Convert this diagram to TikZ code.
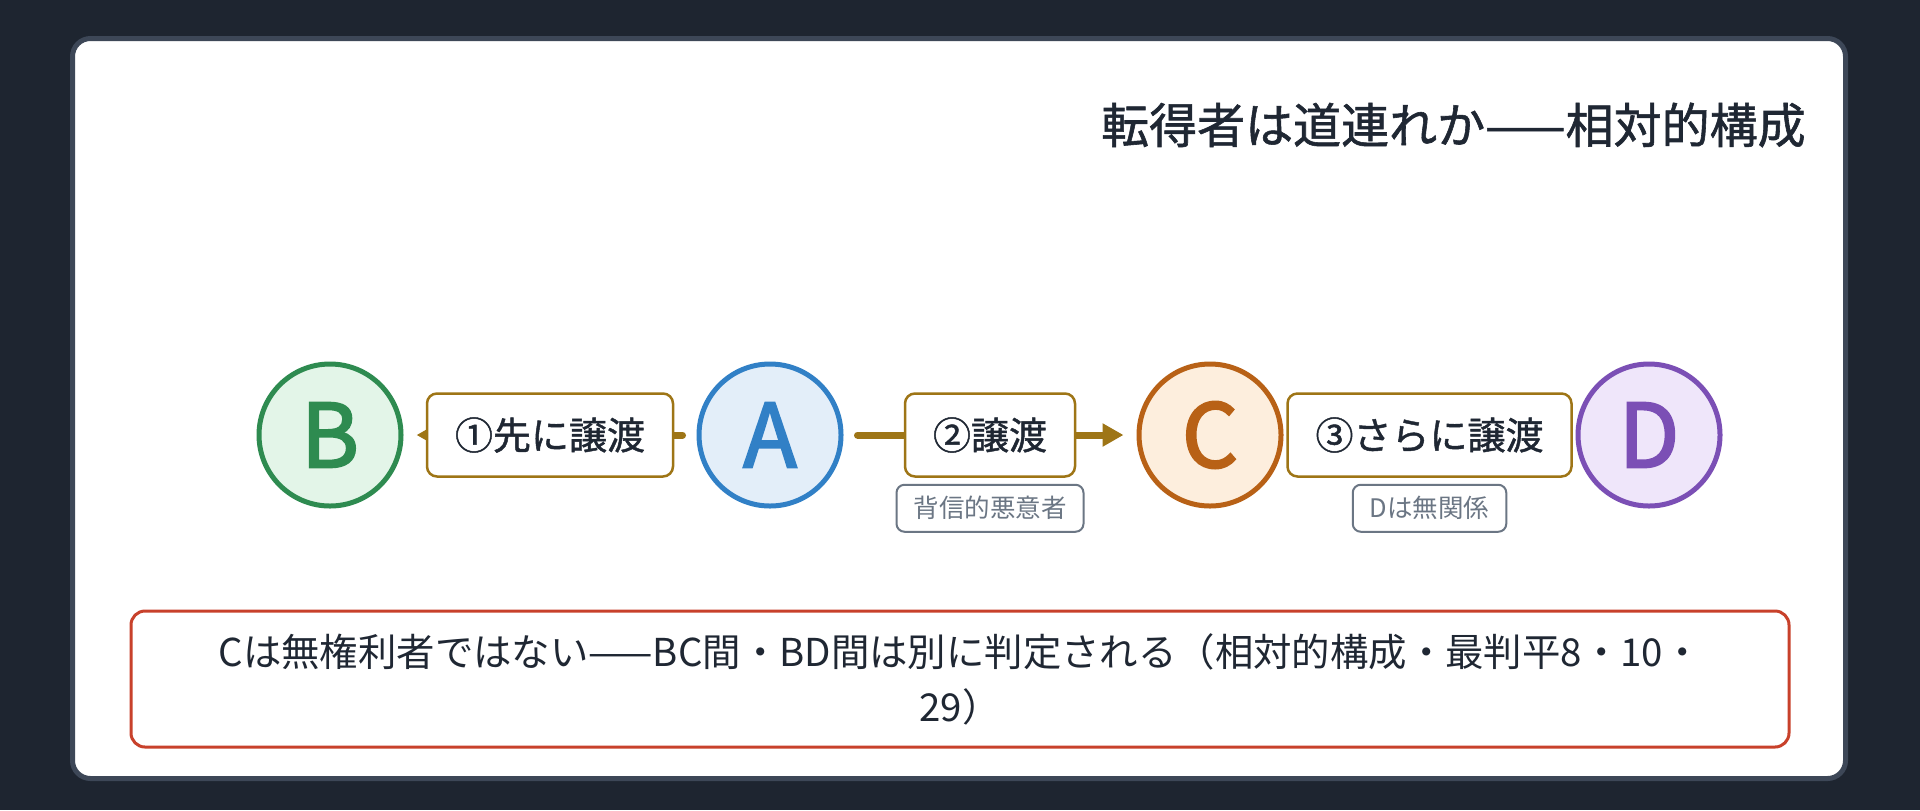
\documentclass[tikz,border=0pt]{standalone}
\usepackage{fontspec}
\setmainfont{Noto Sans CJK JP}
\newfontfamily\mediumjp{Noto Sans CJK JP}[FakeBold=1.2]
\newfontfamily\heavyjp{Noto Sans CJK JP}[FakeBold=2.5]
\usetikzlibrary{positioning,arrows.meta}

\definecolor{pagebg}{HTML}{1E2530}
\definecolor{cardedge}{HTML}{3D4757}
\definecolor{ink}{HTML}{1F2733}
\definecolor{gold}{HTML}{9E7516}
\definecolor{slate}{HTML}{6B7684}
\definecolor{alert}{HTML}{C8412B}
\definecolor{greenB}{HTML}{2E8B50}
\definecolor{greenBfill}{HTML}{E3F5E8}
\definecolor{blueA}{HTML}{3180C6}
\definecolor{blueAfill}{HTML}{E3EEF9}
\definecolor{orangeC}{HTML}{B86116}
\definecolor{orangeCfill}{HTML}{FDEEDD}
\definecolor{purpleD}{HTML}{7B4FB5}
\definecolor{purpleDfill}{HTML}{EFE6FA}

\tikzset{
  party/.style={circle, minimum size=71pt, inner sep=0pt, line width=2.5pt, font=\fontsize{44}{44}\selectfont\heavyjp},
  deal/.style={rectangle, rounded corners=5pt, draw=gold, line width=1.25pt, fill=white, text=ink, inner xsep=14pt, inner ysep=0pt, minimum height=41.5pt, font=\fontsize{19}{19}\selectfont\mediumjp},
  note/.style={rectangle, rounded corners=4pt, draw=slate, line width=1pt, fill=white, text=slate, inner xsep=8.5pt, inner ysep=0pt, minimum height=23.5pt, font=\fontsize{12.75}{12.75}\selectfont},
  link/.style={draw=gold, line width=3.5pt, line cap=round, shorten <=7pt, shorten >=6.5pt, -{Triangle[length=10.5pt,width=11pt]}}
}

\begin{document}
\begin{tikzpicture}[x=0.5pt, y=0.5pt]
\fill[pagebg] (0,0) rectangle (1920,-810);
\draw[cardedge, line width=2.5pt, fill=white, rounded corners=9pt] (72.5,-38.5) rectangle (1845.5,-778.5);
\node[anchor=east, inner sep=0pt, text=ink, font=\fontsize{24}{24}\selectfont\mediumjp] (title) at (1806,-125) {転得者は道連れか——相対的構成};

\node[party, draw=greenB, fill=greenBfill, text=greenB] (B) at (330,-435) {B};
\node[party, draw=blueA, fill=blueAfill, text=blueA] (A) at (770,-435) {A};
\node[party, draw=orangeC, fill=orangeCfill, text=orangeC] (C) at (1210,-435) {C};
\node[party, draw=purpleD, fill=purpleDfill, text=purpleD] (D) at (1649,-435) {D};

\draw[link] (A) -- node[deal] (sale1) {①先に譲渡} (B);
\draw[link] (A) -- node[deal] (sale2) {②譲渡} (C);
\draw[link] (C) -- node[deal] (sale3) {③さらに譲渡} (D);
\node[note, below=3pt of sale2] (badfaith) {背信的悪意者};
\node[note, below=3pt of sale3] (unrelated) {Dは無関係};

\node[rectangle, rounded corners=7pt, draw=alert, line width=1.5pt, fill=white, text=ink, minimum width=829pt, minimum height=68pt, align=center, font=\fontsize{19.2}{27.5}\selectfont] (ruling) at (960,-679) {Cは無権利者ではない——BC間・BD間は別に判定される（相対的構成・最判平8・10・\\29）};
\end{tikzpicture}
\end{document}
